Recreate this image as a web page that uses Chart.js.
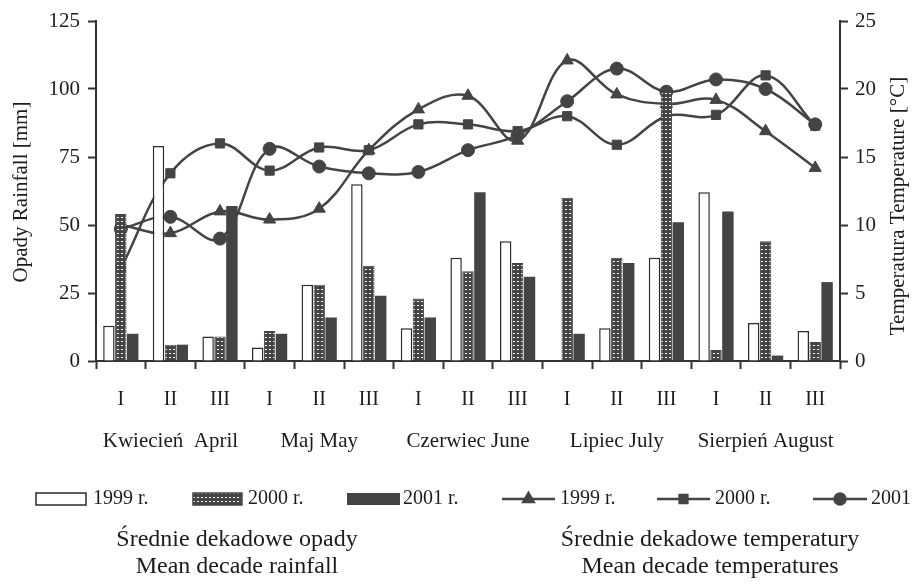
<!DOCTYPE html>
<html>
<head>
<meta charset="utf-8">
<script src="https://cdn.jsdelivr.net/npm/chart.js@4"></script>
<style>
  html, body { margin: 0; padding: 0; background: #fff; }
  #wrap { width: 913px; height: 585px; }
</style>
</head>
<body>
<div id="wrap"><canvas id="chart" width="913" height="585"></canvas></div>
<script>
const decades = ['I', 'II', 'III', 'I', 'II', 'III', 'I', 'II', 'III', 'I', 'II', 'III', 'I', 'II', 'III'];
const months = ['Kwiecień  April', 'Maj May', 'Czerwiec June', 'Lipiec July', 'Sierpień August'];

// decade rainfall [mm]
const rain1999 = [13, 79, 9, 5, 28, 65, 12, 38, 44, 0, 12, 38, 62, 14, 11];
const rain2000 = [54, 6, 9, 11, 28, 35, 23, 33, 36, 60, 38, 99, 4, 44, 7];
const rain2001 = [10, 6, 57, 10, 16, 24, 16, 62, 31, 10, 36, 51, 55, 2, 29];

// decade temperature [°C]
const temp1999 = [10.0, 9.4, 11.0, 10.4, 11.2, 15.5, 18.5, 19.5, 16.2, 22.1, 19.6, 18.9, 19.2, 16.9, 14.2];
const temp2000 = [6.8, 13.8, 16.0, 14.0, 15.7, 15.5, 17.4, 17.4, 16.9, 18.0, 15.9, 18.0, 18.1, 21.0, 17.3];
const temp2001 = [9.7, 10.6, 9.0, 15.6, 14.3, 13.8, 13.9, 15.5, 16.6, 19.1, 21.5, 19.8, 20.7, 20.0, 17.4];

const rainTicks = [0, 25, 50, 75, 100, 125];
const tempTicks = [0, 5, 10, 15, 20, 25];

const INK = '#1c1c1c';
const DARK = '#444';
const FONT = '"Liberation Serif", "Times New Roman", serif';

function makeHatch() {
  let c = document.createElement('canvas');
  c.width = 4;
  c.height = 4;
  let g = c.getContext('2d');
  g.fillStyle = DARK;
  g.fillRect(0, 0, 4, 4);
  g.fillStyle = '#f4f4f4';
  g.fillRect(1, 1, 2, 1);
  return g.createPattern(c, 'repeat');
}
const hatch = makeHatch();

function barSet(label, data, fill, border, bw) {
  return {
    type: 'bar',
    label: label,
    data: data,
    yAxisID: 'y',
    backgroundColor: fill,
    borderColor: border,
    borderWidth: bw,
    borderSkipped: 'start',
    categoryPercentage: 0.72,
    barPercentage: 0.96,
    order: 1
  };
}
function lineSet(label, data, style, radius) {
  return {
    type: 'line',
    label: label,
    data: data,
    yAxisID: 'y1',
    borderColor: DARK,
    backgroundColor: DARK,
    borderWidth: 2.5,
    tension: 0.38,
    pointStyle: style,
    pointRadius: radius,
    pointBorderWidth: 1,
    order: 2
  };
}

const extras = {
  id: 'extras',
  afterDraw(chart) {
    let ctx = chart.ctx;
    let x = chart.scales.x;
    ctx.save();
    ctx.fillStyle = INK;
    ctx.textAlign = 'center';
    ctx.textBaseline = 'middle';

    ctx.font = '21px ' + FONT;
    months.forEach((m, i) => {
      let cx = (x.getPixelForValue(i * 3) + x.getPixelForValue(i * 3 + 2)) / 2;
      ctx.fillText(m, cx, 441);
    });

    // axis titles, both read bottom to top
    ctx.save();
    ctx.translate(21, 192);
    ctx.rotate(-Math.PI / 2);
    ctx.fillText('Opady Rainfall [mm]', 0, 0);
    ctx.restore();
    ctx.save();
    ctx.translate(898, 206);
    ctx.rotate(-Math.PI / 2);
    ctx.fillText('Temperatura Temperature [°C]', 0, 0);
    ctx.restore();

    // legend row
    let ly = 499;
    let sets = chart.data.datasets;
    let boxes = [[36, 86, 93], [193, 242, 248], [347, 400, 403]];
    boxes.forEach((b, i) => {
      let ds = sets[i];
      ctx.fillStyle = ds.backgroundColor;
      ctx.fillRect(b[0], ly - 6, b[1] - b[0], 12);
      if (ds.borderWidth) {
        ctx.strokeStyle = ds.borderColor;
        ctx.lineWidth = 1.5;
        ctx.strokeRect(b[0], ly - 6, b[1] - b[0], 12);
      }
    });
    let lines = [[502, 555, 560], [657, 710, 715], [813, 867, 871]];
    lines.forEach((l, i) => {
      let ds = sets[i + 3];
      ctx.strokeStyle = DARK;
      ctx.lineWidth = 2.5;
      ctx.beginPath();
      ctx.moveTo(l[0], ly);
      ctx.lineTo(l[1], ly);
      ctx.stroke();
      ctx.fillStyle = DARK;
      Chart.helpers.drawPoint(ctx, {pointStyle: ds.pointStyle, radius: ds.pointRadius - 1, rotation: 0, borderWidth: 1}, (l[0] + l[1]) / 2, ly);
    });
    ctx.fillStyle = INK;
    ctx.textAlign = 'left';
    ctx.font = '20px ' + FONT;
    boxes.concat(lines).forEach((b, i) => {
      ctx.fillText(sets[i].label, b[2], ly);
    });

    ctx.textAlign = 'center';
    ctx.font = '24px ' + FONT;
    ctx.fillText('Średnie dekadowe opady', 237, 540);
    ctx.fillText('Mean decade rainfall', 237, 567);
    ctx.fillText('Średnie dekadowe temperatury', 710, 540);
    ctx.fillText('Mean decade temperatures', 710, 567);
    ctx.restore();
  }
};

Chart.defaults.font.family = FONT;
Chart.defaults.color = INK;

let ctx = document.getElementById('chart').getContext('2d');
new Chart(ctx, {
  data: {
    labels: decades,
    datasets: [
      barSet('1999 r.', rain1999, '#ffffff', '#2a2a2a', 1.5),
      barSet('2000 r.', rain2000, hatch, DARK, 1),
      barSet('2001 r.', rain2001, DARK, DARK, 0),
      lineSet('1999 r.', temp1999, 'triangle', 7),
      lineSet('2000 r.', temp2000, 'rect', 6.5),
      lineSet('2001 r.', temp2001, 'circle', 6.5)
    ]
  },
  options: {
    responsive: false,
    animation: false,
    layout: { padding: { top: 21, left: 0, right: 0, bottom: 0 } },
    plugins: {
      legend: { display: false },
      tooltip: { enabled: false }
    },
    scales: {
      x: {
        offset: true,
        grid: { offset: true, drawOnChartArea: false, tickLength: 8, tickColor: '#333', tickWidth: 2 },
        border: { color: '#333', width: 2 },
        ticks: { font: { size: 20 }, color: INK, padding: 19, maxRotation: 0, autoSkip: false },
        afterFit: (scale) => { scale.height = 224; }
      },
      y: {
        position: 'left',
        min: rainTicks[0],
        max: rainTicks[rainTicks.length - 1],
        afterBuildTicks: (scale) => { scale.ticks = rainTicks.map(v => ({value: v})); },
        grid: { drawOnChartArea: false, tickLength: 8, tickColor: '#333', tickWidth: 2 },
        border: { color: '#333', width: 2 },
        ticks: { font: { size: 21 }, color: INK, padding: 8 },
        afterFit: (scale) => { scale.width = 96; }
      },
      y1: {
        position: 'right',
        min: tempTicks[0],
        max: tempTicks[tempTicks.length - 1],
        afterBuildTicks: (scale) => { scale.ticks = tempTicks.map(v => ({value: v})); },
        grid: { drawOnChartArea: false, tickLength: 8, tickColor: '#333', tickWidth: 2 },
        border: { color: '#333', width: 2 },
        ticks: { font: { size: 21 }, color: INK, padding: 7 },
        afterFit: (scale) => { scale.width = 73; }
      }
    }
  },
  plugins: [extras]
});
</script>
</body>
</html>
